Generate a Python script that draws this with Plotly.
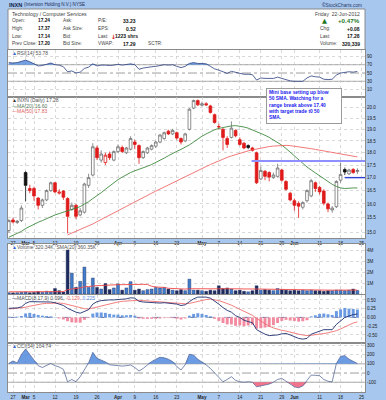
import plotly.graph_objects as go

# ---------------- data ----------------
tick_idx = [1, 4, 6, 11, 16, 21, 26, 30, 35, 40, 46, 50, 55, 60, 65, 68, 74, 79, 84]
tick_txt = ["27", "<b>Mar</b>", "5", "12", "19", "26", "<b>Apr</b>", "9", "16", "23",
            "<b>May</b>", "7", "14", "21", "29", "<b>Jun</b>", "11", "18", "25"]

opens = [15.05, 15.42, 15.33, 15.40, 17.20, 16.58, 16.58, 16.22, 15.95, 16.15,
         16.50, 16.80, 16.40, 16.48, 16.20, 15.80, 15.95, 15.60, 15.70, 16.70,
         17.10, 18.20, 17.70, 17.60, 17.95, 17.70, 18.05, 18.22, 18.00, 18.15,
         18.45, 18.30, 17.80, 18.00, 18.15, 18.28, 18.45, 18.60, 18.92, 18.80,
         18.85, 18.60, 18.50, 19.00, 19.95, 20.30, 20.08, 20.15, 20.05, 19.65,
         19.10, 19.00, 18.60, 18.65, 18.95, 18.55, 18.40, 18.30, 18.20, 18.00,
         16.95, 17.25, 17.20, 17.00, 17.05, 17.30, 16.85, 16.40, 16.12, 16.02,
         15.88, 16.12, 16.30, 16.80, 16.62, 16.48, 16.00, 15.78, 15.90, 16.90,
         17.32, 17.15, 17.32, 17.24]
highs = [15.45, 15.50, 15.42, 15.95, 17.25, 16.72, 16.65, 16.25, 16.20, 16.55,
         16.85, 16.82, 16.55, 16.52, 16.25, 16.05, 16.00, 15.85, 16.80, 17.15,
         18.40, 18.30, 18.10, 18.00, 18.05, 18.10, 18.35, 18.30, 18.25, 18.70,
         18.55, 18.35, 18.10, 18.25, 18.35, 18.50, 18.80, 18.90, 18.98, 19.02,
         18.90, 18.65, 18.85, 19.95, 20.35, 20.35, 20.25, 20.22, 20.10, 19.70,
         19.25, 19.05, 18.70, 19.35, 19.00, 18.65, 18.45, 18.35, 18.25, 18.05,
         17.45, 17.30, 17.25, 17.20, 17.55, 17.35, 16.90, 16.45, 16.20, 16.10,
         16.10, 16.55, 16.95, 16.85, 16.68, 16.55, 16.05, 15.92, 16.90, 17.60,
         17.40, 17.35, 17.38, 17.37]
lows = [14.98, 15.30, 15.28, 15.35, 16.10, 16.40, 16.12, 15.80, 15.85, 16.10,
        16.45, 16.40, 16.35, 16.15, 14.95, 15.75, 15.45, 15.55, 15.65, 16.60,
        17.05, 17.70, 17.60, 17.50, 17.70, 17.65, 18.00, 18.00, 17.95, 18.10,
        18.15, 17.55, 17.75, 17.95, 18.10, 18.20, 18.40, 18.55, 18.75, 18.75,
        18.55, 18.35, 18.45, 18.95, 19.90, 20.05, 20.02, 20.05, 19.70, 19.25,
        19.00, 18.10, 18.20, 18.60, 18.65, 18.30, 18.15, 18.15, 18.05, 16.75,
        16.90, 16.90, 16.85, 16.95, 17.00, 16.85, 16.50, 16.10, 15.75, 15.50,
        15.80, 16.05, 16.25, 16.45, 16.35, 15.95, 15.70, 15.68, 15.85, 16.80,
        17.10, 17.10, 17.15, 17.14]
closes = [15.40, 15.35, 15.38, 15.85, 16.70, 16.50, 16.30, 15.95, 16.15, 16.50,
          16.80, 16.45, 16.44, 16.25, 15.55, 15.95, 15.55, 15.75, 16.75, 17.00,
          18.25, 17.80, 17.95, 17.90, 17.80, 18.05, 18.25, 18.05, 18.20, 18.60,
          18.35, 17.80, 18.05, 18.20, 18.30, 18.45, 18.75, 18.85, 18.80, 18.95,
          18.62, 18.45, 18.80, 19.90, 20.30, 20.10, 20.15, 20.10, 19.75, 19.30,
          19.12, 18.65, 18.35, 19.05, 18.72, 18.35, 18.20, 18.22, 18.10, 16.80,
          17.28, 17.05, 17.02, 17.10, 17.38, 16.90, 16.55, 16.15, 15.95, 15.92,
          16.05, 16.50, 16.88, 16.58, 16.45, 16.03, 15.82, 15.85, 16.85, 17.12,
          17.22, 17.30, 17.20, 17.28]
ma20 = [14.82, 14.88, 14.95, 15.02, 15.12, 15.20, 15.28, 15.34, 15.40, 15.47,
        15.55, 15.60, 15.65, 15.70, 15.74, 15.80, 15.84, 15.90, 16.00, 16.08,
        16.20, 16.30, 16.42, 16.55, 16.68, 16.80, 16.92, 17.02, 17.12, 17.20,
        17.27, 17.32, 17.38, 17.45, 17.52, 17.60, 17.68, 17.78, 17.88, 17.98,
        18.06, 18.14, 18.22, 18.33, 18.45, 18.58, 18.70, 18.80, 18.90, 18.98,
        19.04, 19.08, 19.12, 19.15, 19.16, 19.14, 19.10, 19.05, 18.98, 18.90,
        18.82, 18.74, 18.65, 18.55, 18.45, 18.32, 18.18, 18.02, 17.86, 17.70,
        17.55, 17.42, 17.30, 17.18, 17.06, 16.95, 16.84, 16.74, 16.66, 16.60,
        16.58, 16.60, 16.60, 16.60]
ma50 = [None] * 14 + [
        14.90, 14.96, 15.02, 15.08, 15.14, 15.21, 15.28, 15.36, 15.44, 15.52,
        15.60, 15.68, 15.76, 15.84, 15.92, 16.00, 16.08, 16.16, 16.24, 16.32,
        16.40, 16.48, 16.56, 16.64, 16.72, 16.80, 16.88, 16.96, 17.04, 17.12,
        17.20, 17.28, 17.36, 17.44, 17.52, 17.60, 17.67, 17.74, 17.81, 17.87,
        17.93, 17.98, 18.03, 18.08, 18.12, 18.16, 18.20, 18.23, 18.26, 18.28,
        18.30, 18.31, 18.31, 18.30, 18.28, 18.26, 18.23, 18.20, 18.17, 18.14,
        18.11, 18.08, 18.04, 18.00, 17.97, 17.94, 17.91, 17.88, 17.85, 17.83]
volume = [120000, 100000, 120000, 150000, 180000, 120000, 150000, 220000, 150000, 250000,
          200000, 500000, 300000, 180000, 4000000, 1900000, 600000, 1150000, 2450000, 600000,
          1450000, 600000, 450000, 950000, 400000, 550000, 920000, 350000, 550000, 1120000,
          350000, 450000, 300000, 400000, 450000, 600000, 550000, 600000, 450000, 350000,
          300000, 400000, 300000, 1350000, 350000, 350000, 300000, 250000, 350000, 300000,
          750000, 500000, 550000, 450000, 300000, 350000, 250000, 200000, 300000, 750000,
          350000, 400000, 350000, 300000, 500000, 400000, 350000, 300000, 350000, 300000,
          350000, 300000, 350000, 300000, 300000, 250000, 300000, 300000, 350000, 350000,
          300000, 350000, 450000, 320339]
vol_sma = [200000, 200000, 195000, 190000, 190000, 190000, 190000, 195000, 195000, 200000,
           200000, 210000, 215000, 215000, 400000, 480000, 500000, 550000, 660000, 680000,
           740000, 760000, 770000, 800000, 810000, 820000, 850000, 850000, 860000, 900000,
           900000, 890000, 880000, 870000, 700000, 640000, 630000, 600000, 520000, 500000,
           450000, 460000, 450000, 480000, 470000, 480000, 480000, 470000, 480000, 460000,
           470000, 480000, 490000, 490000, 480000, 470000, 460000, 440000, 430000, 450000,
           450000, 440000, 430000, 420000, 410000, 410000, 400000, 390000, 390000, 380000,
           380000, 370000, 370000, 370000, 360000, 360000, 355000, 350000, 355000, 355000,
           350000, 355000, 360000, 360350]
rsi = [75, 74, 75, 78, 81, 77, 72, 67, 68, 71,
       74, 70, 69, 65, 53, 55, 50, 52, 61, 64,
       72, 67, 69, 69, 68, 69, 71, 69, 70, 72,
       70, 59, 62, 64, 65, 66, 68, 70, 69, 70,
       66, 63, 66, 73, 75, 73, 73, 72, 66, 60,
       57, 52, 49, 54, 52, 49, 47, 47, 46, 33,
       38, 37, 37, 37, 40, 37, 34, 31, 30, 29.5,
       30, 38, 43, 41, 40, 35, 34, 35, 45, 50,
       51, 53, 52, 53.78]
macd = [0.26, 0.26, 0.27, 0.30, 0.40, 0.45, 0.45, 0.44, 0.44, 0.44,
        0.44, 0.42, 0.38, 0.34, 0.26, 0.20, 0.15, 0.12, 0.18, 0.22,
        0.38, 0.45, 0.48, 0.50, 0.50, 0.50, 0.52, 0.52, 0.53, 0.56,
        0.55, 0.46, 0.44, 0.43, 0.42, 0.41, 0.41, 0.42, 0.41, 0.41,
        0.38, 0.34, 0.36, 0.45, 0.53, 0.58, 0.59, 0.58, 0.55, 0.47,
        0.38, 0.28, 0.20, 0.15, 0.05, 0.00, -0.08, -0.12, -0.15, -0.35,
        -0.42, -0.48, -0.52, -0.52, -0.50, -0.47, -0.46, -0.50, -0.55, -0.60,
        -0.62, -0.60, -0.48, -0.44, -0.38, -0.35, -0.35, -0.35, -0.20, -0.10,
        0.00, 0.04, 0.08, 0.096]
signal = [0.24, 0.25, 0.25, 0.26, 0.29, 0.32, 0.35, 0.37, 0.39, 0.40,
          0.41, 0.41, 0.41, 0.40, 0.37, 0.34, 0.30, 0.27, 0.25, 0.24,
          0.27, 0.31, 0.34, 0.37, 0.40, 0.42, 0.44, 0.46, 0.47, 0.49,
          0.50, 0.49, 0.48, 0.47, 0.46, 0.45, 0.44, 0.44, 0.43, 0.43,
          0.42, 0.40, 0.39, 0.40, 0.43, 0.46, 0.49, 0.51, 0.52, 0.51,
          0.48, 0.44, 0.40, 0.35, 0.29, 0.23, 0.17, 0.11, 0.06, -0.03,
          -0.11, -0.19, -0.25, -0.30, -0.34, -0.37, -0.39, -0.41, -0.45, -0.48,
          -0.51, -0.52, -0.51, -0.50, -0.48, -0.46, -0.44, -0.42, -0.38, -0.33,
          -0.27, -0.21, -0.16, -0.129]
hist = [0.02, 0.01, 0.02, 0.04, 0.11, 0.13, 0.10, 0.07, 0.05, 0.04,
        0.03, 0.01, -0.03, -0.06, -0.11, -0.14, -0.15, -0.15, -0.07, -0.02,
        0.11, 0.14, 0.14, 0.13, 0.10, 0.08, 0.08, 0.06, 0.06, 0.07,
        0.05, -0.03, -0.04, -0.04, -0.04, -0.04, -0.03, -0.02, -0.02, -0.02,
        -0.04, -0.06, -0.03, 0.05, 0.10, 0.12, 0.10, 0.07, 0.03, -0.04,
        -0.10, -0.16, -0.20, -0.20, -0.24, -0.23, -0.25, -0.23, -0.21, -0.32,
        -0.31, -0.29, -0.27, -0.22, -0.16, -0.10, -0.07, -0.09, -0.10, -0.12,
        -0.11, -0.08, 0.03, 0.06, 0.10, 0.11, 0.09, 0.07, 0.18, 0.23,
        0.27, 0.25, 0.24, 0.225]
cci = [105, 131, 110, 200, 262, 200, 140, 80, 60, 85,
       105, 80, 65, 40, -95, -70, -95, -40, 40, 110,
       225, 160, 140, 120, 90, 85, 82, 75, 80, 87,
       60, 22, 50, 90, 124, 150, 171, 165, 150, 124,
       70, 33, 90, 204, 195, 150, 120, 87, 50, 0,
       -40, -95, -70, -40, -80, -95, -100, -95, -100, -150,
       -140, -130, -120, -100, -70, -58, -90, -113, -150, -160,
       -140, -80, -22, -25, -30, -70, -90, -95, 105, 180,
       189, 150, 124, 104.74]

resist_level = 17.66
support_level = 17.0

# ---------------- layout helpers ----------------
W, H = 386, 400
ML, MR = 8, 21
PW = W - ML - MR
FONT = "Liberation Sans"
BG = "#a7c7ef"
GRID = "#c9c9c9"
BORDER = "#8a8a8a"


def fx(p):
    return (p - ML) / PW


def fy(p):
    return 1 - p / H


n = len(closes)
idx = list(range(n))
prev = [opens[0]] + closes[:-1]
up_i = [i for i in idx if closes[i] >= prev[i]]
dn_i = [i for i in idx if closes[i] < prev[i]]


def sub(arr, ids):
    return [arr[i] for i in ids]


fig = go.Figure()

# ---------- RSI ----------
fig.add_trace(go.Scatter(x=idx, y=[70] * n, mode="lines", line=dict(width=0),
                         xaxis="x", yaxis="y", hoverinfo="skip", showlegend=False))
fig.add_trace(go.Scatter(x=idx, y=[max(v, 70) for v in rsi], mode="lines", line=dict(width=0),
                         fill="tonexty", fillcolor="rgba(70,130,220,0.75)",
                         xaxis="x", yaxis="y", hoverinfo="skip", showlegend=False))
fig.add_trace(go.Scatter(x=idx, y=rsi, mode="lines", line=dict(color="#2b3f80", width=0.8),
                         xaxis="x", yaxis="y", hoverinfo="skip", showlegend=False))

# ---------- price ----------
fig.add_trace(go.Candlestick(
    x=up_i, open=sub(opens, up_i), high=sub(highs, up_i), low=sub(lows, up_i), close=sub(closes, up_i),
    increasing=dict(line=dict(color="#707070", width=0.8), fillcolor="#ffffff"),
    decreasing=dict(line=dict(color="#111111", width=0.8), fillcolor="#111111"),
    whiskerwidth=0, xaxis="x2", yaxis="y2", hoverinfo="skip", showlegend=False))
fig.add_trace(go.Candlestick(
    x=dn_i, open=sub(opens, dn_i), high=sub(highs, dn_i), low=sub(lows, dn_i), close=sub(closes, dn_i),
    increasing=dict(line=dict(color="#e01b1b", width=0.8), fillcolor="#ffffff"),
    decreasing=dict(line=dict(color="#e01b1b", width=0.8), fillcolor="#e01b1b"),
    whiskerwidth=0, xaxis="x2", yaxis="y2", hoverinfo="skip", showlegend=False))
fig.add_trace(go.Scatter(x=idx, y=ma20, mode="lines", line=dict(color="#3f8a3f", width=0.9),
                         xaxis="x2", yaxis="y2", hoverinfo="skip", showlegend=False))
fig.add_trace(go.Scatter(x=idx, y=ma50, mode="lines", line=dict(color="#f06a6a", width=0.9),
                         xaxis="x2", yaxis="y2", hoverinfo="skip", showlegend=False))

# ---------- volume ----------
vcol = ["#3f7ccc" if closes[i] >= prev[i] else "#1f2c5e" for i in idx]
fig.add_trace(go.Bar(x=idx, y=volume, marker=dict(color=vcol, line=dict(color="#1f2c5e", width=0.4)),
                     width=0.7, xaxis="x3", yaxis="y3", hoverinfo="skip", showlegend=False))
fig.add_trace(go.Scatter(x=idx, y=vol_sma, mode="lines", line=dict(color="#f04848", width=0.9),
                         xaxis="x3", yaxis="y3", hoverinfo="skip", showlegend=False))

# ---------- MACD ----------
hcol = ["#6a9ae2" if v >= 0 else "#f28aa0" for v in hist]
fig.add_trace(go.Bar(x=idx, y=hist, marker=dict(color=hcol, line=dict(width=0)),
                     width=0.7, xaxis="x4", yaxis="y4", hoverinfo="skip", showlegend=False))
fig.add_trace(go.Scatter(x=idx, y=signal, mode="lines", line=dict(color="#f07070", width=0.9),
                         xaxis="x4", yaxis="y4", hoverinfo="skip", showlegend=False))
fig.add_trace(go.Scatter(x=idx, y=macd, mode="lines", line=dict(color="#1f2f70", width=0.9),
                         xaxis="x4", yaxis="y4", hoverinfo="skip", showlegend=False))

# ---------- CCI ----------
fig.add_trace(go.Scatter(x=idx, y=[100] * n, mode="lines", line=dict(width=0),
                         xaxis="x5", yaxis="y5", hoverinfo="skip", showlegend=False))
fig.add_trace(go.Scatter(x=idx, y=[max(v, 100) for v in cci], mode="lines", line=dict(width=0),
                         fill="tonexty", fillcolor="rgba(70,130,220,0.8)",
                         xaxis="x5", yaxis="y5", hoverinfo="skip", showlegend=False))
fig.add_trace(go.Scatter(x=idx, y=[-100] * n, mode="lines", line=dict(width=0),
                         xaxis="x5", yaxis="y5", hoverinfo="skip", showlegend=False))
fig.add_trace(go.Scatter(x=idx, y=[min(v, -100) for v in cci], mode="lines", line=dict(width=0),
                         fill="tonexty", fillcolor="rgba(240,90,120,0.85)",
                         xaxis="x5", yaxis="y5", hoverinfo="skip", showlegend=False))
fig.add_trace(go.Scatter(x=idx, y=cci, mode="lines", line=dict(color="#5a6c9c", width=0.8),
                         xaxis="x5", yaxis="y5", hoverinfo="skip", showlegend=False))

# ---------------- axes ----------------
xbase = dict(range=[-0.19, 84.81], tickvals=tick_idx, ticktext=tick_txt, showgrid=True,
             gridcolor=GRID, griddash="dot", gridwidth=0.7, showline=True, linecolor=BORDER,
             linewidth=1, mirror=True, zeroline=False, ticks="", fixedrange=True,
             tickfont=dict(family=FONT, size=4.6, color="#222"))
ybase = dict(side="right", showgrid=True, gridcolor=GRID, griddash="dot", gridwidth=0.7,
             showline=True, linecolor=BORDER, linewidth=1, mirror=True, zeroline=False,
             ticks="", fixedrange=True, tickfont=dict(family=FONT, size=4.6, color="#222"))

dom = {
    "y": [fy(97), fy(50)],
    "y2": [fy(238), fy(97)],
    "y3": [fy(294), fy(244)],
    "y4": [fy(343), fy(295)],
    "y5": [fy(392), fy(343)],
}

layout = dict(
    width=W, height=H, margin=dict(l=ML, r=MR, t=0, b=0),
    paper_bgcolor=BG, plot_bgcolor="#ffffff", showlegend=False,
    font=dict(family=FONT, size=5, color="#333"),
    boxgap=0.2, boxgroupgap=0.2, bargap=0.3,
    xaxis=dict(xbase, anchor="y", showticklabels=False),
    xaxis2=dict(xbase, anchor="y2", showticklabels=True, rangeslider=dict(visible=False), matches="x"),
    xaxis3=dict(xbase, anchor="y3", showticklabels=False, matches="x"),
    xaxis4=dict(xbase, anchor="y4", showticklabels=False, matches="x"),
    xaxis5=dict(xbase, anchor="y5", showticklabels=True, matches="x"),
    yaxis=dict(ybase, domain=dom["y"], anchor="x", range=[-7.8, 105.4],
               tickvals=[10, 30, 50, 70, 90], ticktext=["10", "30", "50", "70", "90"]),
    yaxis2=dict(ybase, domain=dom["y2"], anchor="x2", type="log", range=[1.17009, 1.31104],
                tickvals=[15.0, 15.5, 16.0, 16.5, 17.0, 17.5, 18.0, 18.5, 19.0, 19.5, 20.0],
                ticktext=["15.0", "15.5", "16.0", "16.5", "17.0", "17.5", "18.0", "18.5",
                          "19.0", "19.5", "20.0"]),
    yaxis3=dict(ybase, domain=dom["y3"], anchor="x3", range=[0, 4550000],
                tickvals=[1e6, 2e6, 3e6, 4e6], ticktext=["1M", "2M", "3M", "4M"]),
    yaxis4=dict(ybase, domain=dom["y4"], anchor="x4", range=[-0.731, 0.64],
                tickvals=[-0.5, -0.25, 0, 0.25, 0.5],
                ticktext=["-0.50", "-0.25", "0.00", "0.25", "0.50"]),
    yaxis5=dict(ybase, domain=dom["y5"], anchor="x5", range=[-206, 326],
                tickvals=[-100, 0, 100, 200, 300], ticktext=["-100", "0", "100", "200", "300"]),
)
fig.update_layout(layout)

shapes = []
# header box
shapes.append(dict(type="rect", xref="paper", yref="paper", x0=0, x1=1, y0=fy(49.5), y1=fy(9),
                   fillcolor="#ffffff", line=dict(color=BORDER, width=1), layer="below"))
# RSI guides
for lv, dash in [(70, "solid"), (30, "solid"), (50, "dashdot")]:
    shapes.append(dict(type="line", xref="paper", yref="y", x0=0, x1=1, y0=lv, y1=lv,
                       line=dict(color="#a0a0a0", width=1, dash=dash), layer="below"))
# CCI guides
for lv, dash in [(100, "solid"), (-100, "solid"), (0, "dashdot")]:
    shapes.append(dict(type="line", xref="paper", yref="y5", x0=0, x1=1, y0=lv, y1=lv,
                       line=dict(color="#a0a0a0", width=1, dash=dash), layer="below"))
# MACD zero
shapes.append(dict(type="line", xref="paper", yref="y4", x0=0, x1=1, y0=0, y1=0,
                   line=dict(color="#3a4a8a", width=0.8, dash="dash"), layer="below"))
# resistance / support lines
shapes.append(dict(type="line", xref="x2", yref="y2", x0=57.8, x1=84.81,
                   y0=resist_level, y1=resist_level, line=dict(color="#8f8fff", width=2)))
shapes.append(dict(type="line", xref="x2", yref="y2", x0=80.0, x1=84.81,
                   y0=support_level, y1=support_level, line=dict(color="#2f3fd6", width=1.4)))
fig.update_layout(shapes=shapes)

ann = []


def txt(x, y, s, size=5.2, color="#444", anchor="left", bold=False, family=FONT):
    ann.append(dict(xref="paper", yref="paper", x=fx(x), y=fy(y), text=("<b>%s</b>" % s) if bold else s,
                    showarrow=False, xanchor=anchor, yanchor="middle",
                    font=dict(family=family, size=size, color=color)))


# title strip
txt(7, 4.8, "INXN", size=5.6, color="#10234a", bold=True)
txt(21.5, 5.0, "(Intersion Holding N.V.) NYSE", size=4.6, color="#1d2d55")
txt(364, 5.0, "<b>©</b>StockCharts.com", size=4.8, color="#2a3a66", anchor="right")

# header box rows
rows = [13.6, 21.0, 28.5, 36.2, 43.8]
txt(10, rows[0], "Technology / Computer Services", size=5.2)
txt(362, rows[0], "Friday  22-Jun-2012", size=5.0, anchor="right")
for r, lab in zip(rows[1:], ["Open:", "High:", "Low:", "Prev Close:"]):
    txt(10, r, lab, size=4.8)
for r, val in zip(rows[1:], ["17.24", "17.37", "17.14", "17.20"]):
    txt(52, r, val, size=4.8, color="#111", anchor="right", bold=True)
for r, lab in zip(rows[1:], ["Ask:", "Ask Size:", "Bid:", "Bid Size:"]):
    txt(61, r, lab, size=4.8)
for r, lab in zip(rows[1:], ["P/E:", "EPS:", "Last:", "VWAP:"]):
    txt(96, r, lab, size=4.8)
txt(138, rows[1], "33.23", size=5.0, color="#111", anchor="right", bold=True)
txt(138, rows[2], "0.52", size=5.0, color="#111", anchor="right", bold=True)
txt(138, rows[4], "17.29", size=5.0, color="#111", anchor="right", bold=True)
txt(108.5, rows[3], "↓", size=6.0, color="#d41010", bold=True, family="DejaVu Sans")
txt(113, rows[3], "1223 shrs", size=5.0, color="#111", bold=True)
txt(146, rows[4], "SCTR:", size=4.8)
txt(320, rows[1], "▲", size=6.5, color="#1f7a1f", family="DejaVu Sans")
txt(362, rows[1], "+0.47%", size=6.2, color="#1f7a1f", anchor="right", bold=True)
txt(318, rows[2], "Chg:", size=4.8)
txt(362, rows[2], "+0.08", size=5.0, color="#111", anchor="right", bold=True)
txt(318, rows[3], "Last:", size=4.8)
txt(362, rows[3], "17.28", size=5.0, color="#111", anchor="right", bold=True)
txt(318, rows[4], "Volume:", size=4.8)
txt(362, rows[4], "320,339", size=5.0, color="#111", anchor="right", bold=True)

# panel legends
txt(9.5, 53.2, "<span style='color:#3366cc'>▲</span>RSI(14) 53.78", size=5.0, color="#555")
txt(9.5, 100.3, "<span style='color:#333'>▲</span>INXN (Daily) 17.28", size=5.0, color="#555")
txt(9.5, 105.6, "<span style='color:#3f8a3f'>—</span>MA(20) 16.60", size=5.0, color="#5a7a5a")
txt(9.5, 110.6, "<span style='color:#f06a6a'>—</span>MA(50) 17.83", size=5.0, color="#e06060")
txt(9.5, 247.3, "<span style='color:#3366cc'>▲</span>Volume 320.34K, SMA(20) 360.35K", size=5.0, color="#555")
txt(9.5, 298.3, "<span style='color:#1f2f70'>—</span>MACD(8,17,9) 0.096, "
                "<span style='color:#f07070'>-0.129,</span> <span style='color:#5b8fe0'>0.225</span>",
    size=5.0, color="#555")
txt(9.5, 346.3, "<span style='color:#3366cc'>▲</span>CCI(34) 104.74", size=5.0, color="#555")

# comment box
ann.append(dict(xref="paper", yref="paper", x=fx(266), y=fy(87.7), xanchor="left", yanchor="top",
                text="<b>Mini base setting up blow<br>50 SMA. Watching for a<br>range break above 17.40<br>"
                     "with target trade t0 50<br>SMA.</b>",
                showarrow=False, align="left", valign="top", width=72, height=32,
                bgcolor="#ffffff", bordercolor="#9a9a9a", borderwidth=1, borderpad=1,
                font=dict(family=FONT, size=4.9, color="#1a1aee")))
# arrow
ann.append(dict(xref="x2", yref="y2", x=83.3, y=17.86, ax=0, ay=-8, axref="pixel", ayref="pixel",
                text="", showarrow=True, arrowhead=2, arrowsize=0.9, arrowwidth=2.2,
                arrowcolor="#1f4fe0"))
fig.update_layout(annotations=ann)

fig.write_html("out.html",
               config={"displayModeBar": False, "staticPlot": True},
               post_script="document.body.style.margin='0';document.body.style.padding='0';"
                           "document.documentElement.style.margin='0';")
